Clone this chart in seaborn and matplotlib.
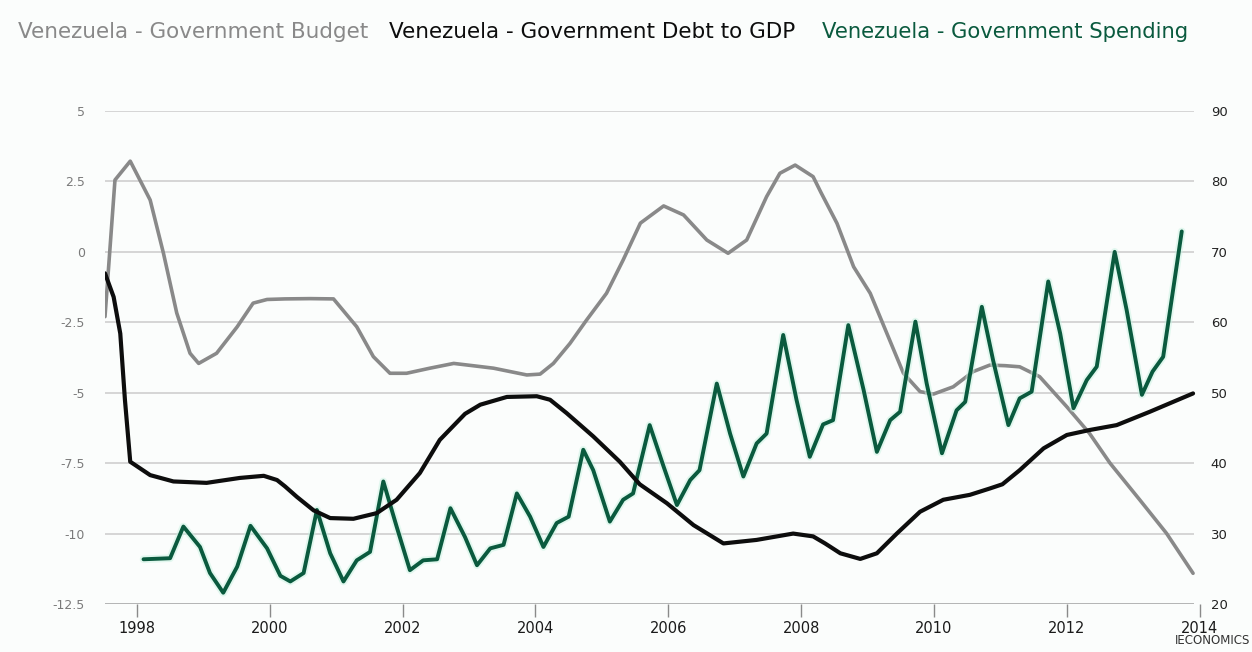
import matplotlib
matplotlib.use("Agg")
import matplotlib.pyplot as plt
import seaborn as sns
import pandas as pd

# ---------------- data ----------------
budget_year = [1997.52, 1997.67, 1997.90, 1998.20, 1998.40, 1998.60, 1998.80, 1998.93,
               1999.20, 1999.51, 1999.75, 1999.96, 2000.23, 2000.61, 2000.96, 2001.31,
               2001.56, 2001.81, 2002.06, 2002.41, 2002.77, 2003.09, 2003.37, 2003.87,
               2004.07, 2004.27, 2004.52, 2004.77, 2005.07, 2005.32, 2005.58, 2005.93,
               2006.23, 2006.58, 2006.90, 2007.18, 2007.48, 2007.68, 2007.91, 2008.18,
               2008.30, 2008.54, 2008.79, 2009.04, 2009.29, 2009.54, 2009.79, 2009.99,
               2010.29, 2010.59, 2010.84, 2011.07, 2011.29, 2011.59, 2012.00, 2012.34,
               2012.65, 2013.10, 2013.50, 2013.90]
budget_value = [-2.3, 2.55, 3.22, 1.84, -0.05, -2.17, -3.6, -3.96,
                -3.6, -2.66, -1.82, -1.69, -1.67, -1.66, -1.67, -2.66,
                -3.72, -4.31, -4.31, -4.13, -3.96, -4.05, -4.13, -4.37,
                -4.34, -3.96, -3.25, -2.42, -1.47, -0.29, 1.02, 1.63,
                1.31, 0.42, -0.05, 0.42, 1.96, 2.79, 3.08, 2.67,
                2.1, 1.01, -0.53, -1.47, -2.89, -4.31, -4.96, -5.05,
                -4.79, -4.25, -4.02, -4.04, -4.08, -4.43, -5.5, -6.44,
                -7.5, -8.81, -9.99, -11.41]

debt_year = [1997.52, 1997.65, 1997.75, 1997.82, 1997.90, 1998.20, 1998.55, 1999.05,
             1999.55, 1999.91, 2000.11, 2000.23, 2000.41, 2000.66, 2000.91, 2001.26,
             2001.61, 2001.91, 2002.26, 2002.56, 2002.94, 2003.17, 2003.57, 2004.02,
             2004.22, 2004.47, 2004.87, 2005.27, 2005.57, 2005.98, 2006.38, 2006.83,
             2007.33, 2007.88, 2008.18, 2008.36, 2008.59, 2008.89, 2009.14, 2009.44,
             2009.79, 2010.14, 2010.54, 2010.84, 2011.03, 2011.29, 2011.65, 2012.00,
             2012.34, 2012.75, 2013.25, 2013.90]
debt_value = [66.95, 63.6, 58.4, 49.0, 40.2, 38.3, 37.4, 37.2,
              37.9, 38.2, 37.6, 36.7, 35.2, 33.3, 32.2, 32.1,
              32.9, 34.8, 38.6, 43.3, 47.0, 48.3, 49.4, 49.5,
              49.0, 47.1, 43.8, 40.2, 37.0, 34.3, 31.2, 28.6,
              29.1, 30.0, 29.6, 28.6, 27.2, 26.4, 27.2, 30.0,
              33.1, 34.8, 35.5, 36.4, 37.0, 39.0, 42.1, 44.0,
              44.7, 45.4, 47.3, 49.9]

spending_year = [1998.10, 1998.50, 1998.70, 1998.95, 1999.10, 1999.30, 1999.51, 1999.71,
                 1999.96, 2000.16, 2000.31, 2000.51, 2000.71, 2000.91, 2001.11, 2001.31,
                 2001.51, 2001.71, 2001.91, 2002.11, 2002.31, 2002.52, 2002.72, 2002.94,
                 2003.12, 2003.32, 2003.52, 2003.72, 2003.92, 2004.12, 2004.32, 2004.50,
                 2004.72, 2004.87, 2005.12, 2005.32, 2005.47, 2005.72, 2005.93, 2006.13,
                 2006.33, 2006.47, 2006.73, 2006.93, 2007.13, 2007.33, 2007.48, 2007.73,
                 2007.93, 2008.13, 2008.33, 2008.48, 2008.71, 2008.94, 2009.14, 2009.34,
                 2009.49, 2009.72, 2009.89, 2010.12, 2010.34, 2010.47, 2010.72, 2010.89,
                 2011.12, 2011.29, 2011.47, 2011.72, 2011.90, 2012.10, 2012.30, 2012.45,
                 2012.72, 2012.90, 2013.13, 2013.29, 2013.45, 2013.73]
spending_value = [26.35, 26.5, 31.0, 28.1, 24.4, 21.6, 25.3, 31.1,
                  27.9, 24.0, 23.2, 24.4, 33.35, 27.2, 23.2, 26.2,
                  27.4, 37.4, 31.0, 24.8, 26.2, 26.35, 33.6, 29.5,
                  25.5, 27.9, 28.4, 35.7, 32.4, 28.1, 31.5, 32.4,
                  41.9, 39.0, 31.7, 34.8, 35.7, 45.4, 39.5, 34.05,
                  37.6, 39.0, 51.3, 44.2, 38.1, 42.8, 44.2, 58.2,
                  49.0, 40.9, 45.5, 46.1, 59.6, 50.4, 41.6, 46.1,
                  47.3, 60.1, 51.3, 41.4, 47.5, 48.7, 62.2, 54.6,
                  45.4, 49.2, 50.15, 65.8, 58.4, 47.8, 51.8, 53.7,
                  70.0, 61.75, 49.7, 53.0, 55.1, 72.9]

left_ticks = [-12.5, -10, -7.5, -5, -2.5, 0, 2.5, 5]
left_labels = ["-12.5", "-10", "-7.5", "-5", "-2.5", "0", "2.5", "5"]
right_ticks = [20, 30, 40, 50, 60, 70, 80, 90]
x_ticks = [1998, 2000, 2002, 2004, 2006, 2008, 2010, 2012, 2014]

titles = ["Venezuela - Government Budget",
          "Venezuela - Government Debt to GDP",
          "Venezuela - Government Spending"]

# ---------------- style ----------------
sns.set_theme(style="white")
plt.rcParams['font.family'] = ['DejaVu Sans']

BG = "#fbfdfc"
GRAY = "#898989"
BLACK = "#0d0d0d"
GREEN = "#0a5a3e"
GRID = "#cfcfcf"

fig = plt.figure(figsize=(12.52, 6.52), dpi=100, facecolor=BG)
ax = fig.add_axes([105 / 1252, 48 / 652, (1199.7 - 105) / 1252, (604 - 111) / 652])
ax.set_facecolor(BG)
ax2 = ax.twinx()

xmin, xmax = 1997.52, 2014.0
ax.set_xlim(xmin, xmax)
ax.set_ylim(-12.5, 5)
ax2.set_ylim(20, 90)

# grid lines (stop at end of data, as in reference)
for t in left_ticks:
    ax.hlines(t, xmin, 2013.92, color=("#a8a8a8" if t == -12.5 else GRID),
              lw=1.2, zorder=0)

df_b = pd.DataFrame({"year": budget_year, "value": budget_value})
df_d = pd.DataFrame({"year": debt_year, "value": debt_value})
df_s = pd.DataFrame({"year": spending_year, "value": spending_value})

sns.lineplot(data=df_b, x="year", y="value", ax=ax, color=GRAY, lw=2.6,
             sort=False, estimator=None)
# glow behind spending line
sns.lineplot(data=df_s, x="year", y="value", ax=ax2, color="#c8f3e2", lw=5.5,
             sort=False, estimator=None, alpha=0.5)
sns.lineplot(data=df_s, x="year", y="value", ax=ax2, color=GREEN, lw=2.8,
             sort=False, estimator=None)
sns.lineplot(data=df_d, x="year", y="value", ax=ax2, color=BLACK, lw=3.0,
             sort=False, estimator=None)
for a in (ax, ax2):
    for ln in a.get_lines():
        ln.set_solid_joinstyle("round")
        ln.set_solid_capstyle("round")

for a in (ax, ax2):
    for s in a.spines.values():
        s.set_visible(False)
    a.set_xlabel("")
    a.set_ylabel("")

ax.set_yticks(left_ticks)
ax.set_yticklabels(left_labels)
ax.tick_params(axis="y", length=0, pad=14.5, labelsize=9, labelcolor="#7a7a7a")
ax2.set_yticks(right_ticks)
ax2.set_yticklabels([str(v) for v in right_ticks])
ax2.tick_params(axis="y", length=0, pad=8, labelsize=9.5, labelcolor="#222222")

ax.set_xticks(x_ticks)
ax.set_xticklabels([str(v) for v in x_ticks])
ax.tick_params(axis="x", bottom=True, length=9, width=1, color="#8a8a8a",
               pad=3, labelsize=10.5, labelcolor="#1a1a1a", direction="out")

# title pieces
ty = 1 - 32 / 652
fig.text(18 / 1252, ty, titles[0], color=GRAY, fontsize=15.5, va="center", ha="left")
fig.text(389 / 1252, ty, titles[1], color=BLACK, fontsize=15.5, va="center", ha="left")
fig.text(822 / 1252, ty, titles[2], color=GREEN, fontsize=15.2, va="center", ha="left")

fig.text(1250 / 1252, 1 - 641 / 652, "IECONOMICS", color="#333333", fontsize=8.5,
         va="center", ha="right")

fig.savefig("out.png", dpi=100, facecolor=BG)
